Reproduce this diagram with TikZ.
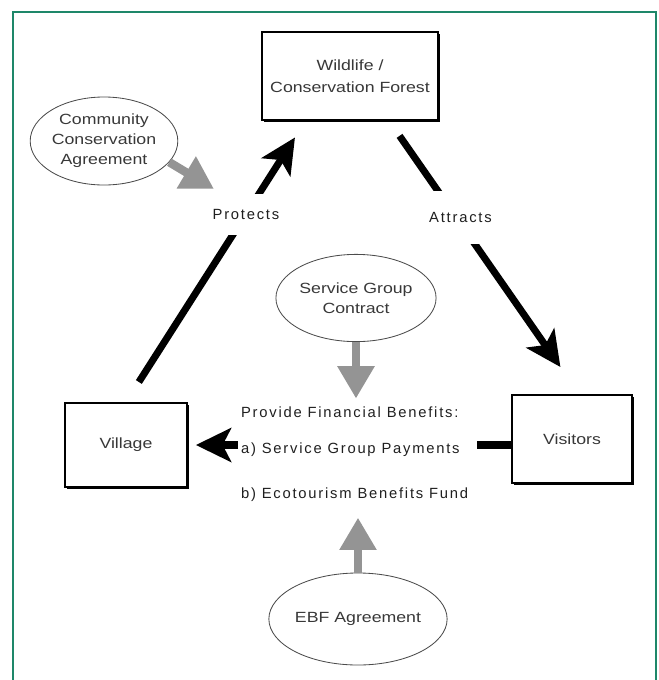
\documentclass[tikz,border=0pt]{standalone}
\usepackage{fontspec}
\setmainfont[FakeStretch=1.2]{Liberation Sans}
\newfontfamily\lblfont[LetterSpace=12]{Liberation Sans}
\usetikzlibrary{arrows.meta, calc, shadows, shapes.geometric}

\definecolor{framegreen}{RGB}{30,135,105}

\tikzset{
  box/.style={draw, line width=1.2pt, fill=white, align=center, text=black!78,
    font=\fontsize{10.5}{15.5}\selectfont,
    drop shadow={shadow xshift=1.1pt, shadow yshift=-1.1pt, fill=black, opacity=1}},
  oval/.style={ellipse, draw=black!70, line width=0.6pt, align=center, text=black!78,
    inner sep=0pt, font=\fontsize{10.5}{14.2}\selectfont},
  lbl/.style={text=black!88, font=\lblfont\fontsize{10.5}{13}\selectfont, inner sep=2pt},
  gap/.style={fill=white, inner xsep=1pt},
  blk/.style={line width=5pt, black},
  blkarrow/.style={blk, -{Stealth[length=25pt, width=24pt, inset=6pt]}},
  grayarrow/.style={line width=6pt, black!42, -{Triangle[length=23pt, width=25pt]}},
}

\begin{document}
\begin{tikzpicture}[x=0.025cm, y=-0.025cm]
\useasboundingbox (0,0) rectangle (659,680);

%frame
\draw[framegreen, line width=1.4pt] (13,680) -- (13,12) -- (656,12) -- (656,680);

%boxes
\node[box, minimum width=4.4cm, minimum height=2.2cm] (wildlife) at (350,76) {Wildlife /\\Conservation Forest};
\node[box, minimum width=3.05cm, minimum height=2.1cm] (village) at (126,445) {Village};
\node[box, minimum width=3.0cm, minimum height=2.2cm] (visitors) at (572,439) {Visitors};

%agreements
\node[oval, minimum width=3.45cm, minimum height=2.2cm] (cca) at (104,141) {Community\\Conservation\\Agreement};
\node[oval, minimum width=3.95cm, minimum height=2.18cm] (sgc) at (356,298) {Service Group\\Contract};
\node[oval, minimum width=3.68cm, minimum height=2.3cm] (ebf) at (358,619) {EBF Agreement};

%benefits
\node[lbl, anchor=west] (fin) at (238,412) {Provide Financial Benefits:};
\node[lbl, anchor=west] (pay) at (238,450) {a) Service Group Payments};
\node[lbl, anchor=west] (eft) at (238,495) {b) Ecotourism Benefits Fund};

\coordinate (wl protect) at ($(wildlife.south west)!0.25!(wildlife.south east)$);
\coordinate (wl attract) at ($(wildlife.south west)!0.72!(wildlife.south east)$);
\coordinate (vis top) at ($(visitors.north west)!0.56!(visitors.north east)$);
\coordinate (cca tip) at (214,189);
\coordinate (pay line) at ($(pay.center)+(0,-5)$);

%cycle
\draw[blkarrow, shorten <=17pt, shorten >=14pt] (village.north) -- node[lbl, gap, pos=0.668, inner ysep=11pt] {Protects} (wl protect);
\draw[blkarrow, shorten <=13pt, shorten >=23.5pt] (wl attract) -- node[lbl, gap, pos=0.353, inner ysep=15pt, xshift=3pt] {Attracts} (vis top);
\draw[blk, shorten >=10pt] (visitors.west |- pay line) -- (pay line -| pay.east);
\draw[blkarrow, shorten >=5.7pt] (pay line -| pay.west) -- (village.east |- pay line);

%agreement arrows
\draw[grayarrow] (cca.-18) -- (cca tip);
\draw[grayarrow, shorten >=3.5pt] (sgc.south) -- (sgc.south |- fin.north);
\draw[grayarrow, shorten >=9pt] (ebf.north) -- (ebf.north |- eft.south);

\end{tikzpicture}
\end{document}
